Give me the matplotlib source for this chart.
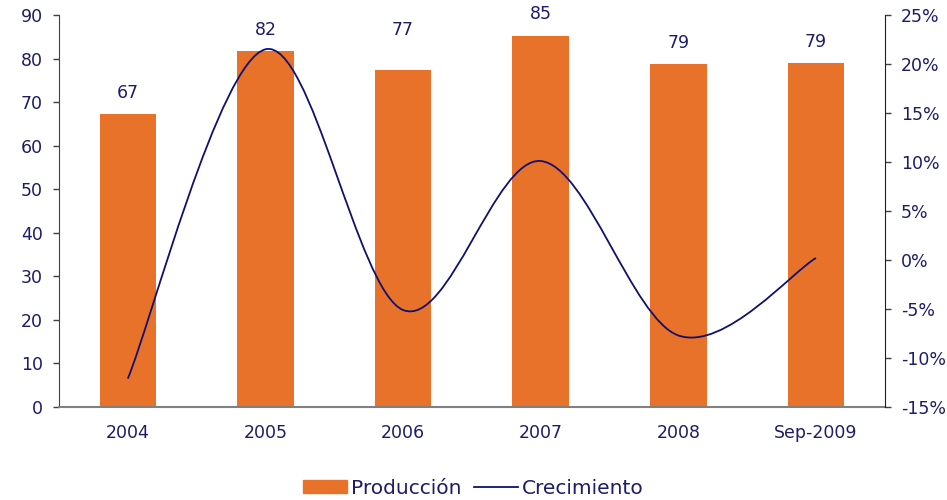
import matplotlib
matplotlib.use("Agg")
import matplotlib.pyplot as plt
from matplotlib.path import Path
from matplotlib.patches import PathPatch
from matplotlib.lines import Line2D
from matplotlib.ticker import FuncFormatter

# données
periodes = ["2004", "2005", "2006", "2007", "2008", "Sep-2009"]
produccion = [67.3, 81.7, 77.4, 85.2, 78.8, 79.0]
etiquettes = ["67", "82", "77", "85", "79", "79"]
crecimiento = [-12.1, 21.5, -5.1, 10.1, -7.7, 0.2]

# décalage vertical des étiquettes (points)
decalage = [15, 15, 29, 16, 15, 15]

bleu = "#1c1c6b"
orange = "#e8722a"
plt.rcParams["font.family"] = ["DejaVu Sans"]

fig = plt.figure(figsize=(9.47, 5.0), dpi=100)
ax = fig.add_axes([0.0623, 0.186, 0.872, 0.784])
ax2 = ax.twinx()

x = list(range(len(periodes)))
ax.bar(x, produccion, width=0.41, color=orange, zorder=2)
for xi, v, lab, d in zip(x, produccion, etiquettes, decalage):
    ax.annotate(lab, (xi, v), xytext=(0, d), textcoords="offset points",
                ha="center", va="center", fontsize=12.5, color=bleu)

ax.set_xlim(-0.5, len(periodes) - 0.5)
ax.set_ylim(0, 90)
ax.set_yticks(range(0, 91, 10))
ax.set_xticks(x)
ax.set_xticklabels(periodes)
ax2.set_ylim(-15, 25)
ax2.set_yticks(range(-15, 26, 5))
ax2.yaxis.set_major_formatter(FuncFormatter(lambda v, p: f"{v:.0f}%"))

# courbe lissée (bezier type catmull-rom)
pts = list(zip(x, crecimiento))
ext = [pts[0]] + pts + [pts[-1]]
verts = [pts[0]]
codes = [Path.MOVETO]
for i in range(1, len(ext) - 2):
    p0, p1, p2, p3 = ext[i - 1], ext[i], ext[i + 1], ext[i + 2]
    c1 = (p1[0] + (p2[0] - p0[0]) / 6, p1[1] + (p2[1] - p0[1]) / 6)
    c2 = (p2[0] - (p3[0] - p1[0]) / 6, p2[1] - (p3[1] - p1[1]) / 6)
    verts += [c1, c2, p2]
    codes += [Path.CURVE4] * 3
ax2.add_patch(PathPatch(Path(verts, codes), facecolor="none",
                        edgecolor="#10106e", lw=1.3, zorder=3))

for a in (ax, ax2):
    a.spines["top"].set_visible(False)
    a.tick_params(labelsize=12.5, labelcolor=bleu, length=4.5, width=1,
                  color="#404040")
ax.spines["right"].set_visible(False)
ax2.spines["left"].set_visible(False)
ax2.spines["bottom"].set_visible(False)
ax.spines["left"].set_color("#404040")
ax2.spines["right"].set_color("#202020")
ax.spines["bottom"].set_color("#808080")
ax.spines["bottom"].set_linewidth(1.5)
ax.tick_params(axis="x", length=0, pad=12)
ax.tick_params(axis="y", pad=7)
ax2.tick_params(axis="y", pad=7)

handles = [plt.Rectangle((0, 0), 1, 1, color=orange),
           Line2D([], [], color="#10106e", lw=1.3)]
leg = fig.legend(handles, ["Producción", "Crecimiento"], loc="center",
                 bbox_to_anchor=(0.5, 0.024), ncol=2, frameon=False,
                 fontsize=14.5, handlelength=2.2, handleheight=0.6,
                 columnspacing=0.6, handletextpad=0.2)
for t in leg.get_texts():
    t.set_color(bleu)

plt.savefig("out.png", dpi=100)
